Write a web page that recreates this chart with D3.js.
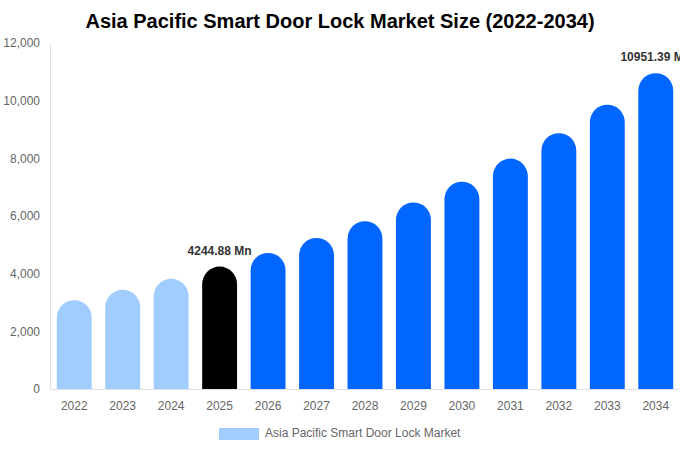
<!DOCTYPE html>
<html>
<head>
<meta charset="utf-8">
<script src="https://cdn.jsdelivr.net/npm/d3@7/dist/d3.min.js"></script>
<style>
  body { margin: 0; background: #fff; font-family: "Liberation Sans", Arial, sans-serif; }
</style>
</head>
<body>
<div id="chart"></div>
<script>
// Data
const years = ["2022", "2023", "2024", "2025", "2026", "2027", "2028", "2029", "2030", "2031", "2032", "2033", "2034"];
const values = [3080, 3440, 3820, 4244.88, 4720, 5240, 5820, 6470, 7190, 7990, 8870, 9860, 10951.39];
const yTicks = [0, 2000, 4000, 6000, 8000, 10000, 12000];
const labelled = { "2025": "4244.88 Mn", "2034": "10951.39 Mn" };

const width = 680, height = 450;
const margin = { top: 43, right: 0, bottom: 61, left: 50 };
const w = width - margin.left - margin.right;
const h = height - margin.top - margin.bottom;

const svg = d3.select("#chart").append("svg")
  .attr("width", width)
  .attr("height", height);

// Title
svg.append("text")
  .attr("x", 340)
  .attr("y", 28)
  .attr("text-anchor", "middle")
  .attr("font-size", 20)
  .attr("font-weight", "bold")
  .attr("fill", "#000")
  .text("Asia Pacific Smart Door Lock Market Size (2022-2034)");

const g = svg.append("g").attr("transform", `translate(${margin.left},${margin.top})`);

const x = d3.scaleBand().domain(years).range([0, w]).paddingInner(0.28).paddingOuter(0.14);
const y = d3.scaleLinear().domain([0, 12000]).range([h, 0]);

// colour by period: history / base year / forecast
function colour(yr) {
  if (+yr < 2025) return "#a0cdfd";
  if (+yr === 2025) return "#000000";
  return "#0066ff";
}

// Y axis
const yAxis = g.append("g").call(d3.axisLeft(y).tickValues(yTicks).tickFormat(d3.format(",")).tickSize(0).tickPadding(10));
yAxis.select(".domain").attr("stroke", "#e0e0e0");
yAxis.selectAll("text").attr("font-size", 12).attr("fill", "#666").attr("font-family", "Liberation Sans, Arial, sans-serif");

// X axis
const xAxis = g.append("g").attr("transform", `translate(0,${h})`).call(d3.axisBottom(x).tickSize(0).tickPadding(12));
xAxis.select(".domain").attr("stroke", "#e0e0e0");
xAxis.selectAll("text").attr("font-size", 12).attr("fill", "#666").attr("font-family", "Liberation Sans, Arial, sans-serif");

// Bars with a round top
const bw = x.bandwidth();
const r = bw / 2;
g.selectAll(".bar")
  .data(years)
  .enter()
  .append("path")
  .attr("class", "bar")
  .attr("fill", (d) => colour(d))
  .attr("d", (d, i) => {
    const x0 = x(d), x1 = x0 + bw, top = y(values[i]), base = y(0);
    return `M${x0},${base} L${x0},${top + r} A${r},${r} 0 0 1 ${x1},${top + r} L${x1},${base} Z`;
  });

// Value labels
g.selectAll(".lbl")
  .data(years.filter((d) => labelled[d]))
  .enter()
  .append("text")
  .attr("x", (d) => x(d) + bw / 2)
  .attr("y", (d) => y(values[years.indexOf(d)]) - 12)
  .attr("text-anchor", "middle")
  .attr("font-size", 12)
  .attr("font-weight", "bold")
  .attr("fill", "#333")
  .text((d) => labelled[d]);

// Legend
svg.append("rect")
  .attr("x", 219).attr("y", 428)
  .attr("width", 40).attr("height", 12)
  .attr("fill", "#a0cdfd");
svg.append("text")
  .attr("x", 265).attr("y", 437)
  .attr("font-size", 12)
  .attr("fill", "#666")
  .text("Asia Pacific Smart Door Lock Market");
</script>
</body>
</html>
